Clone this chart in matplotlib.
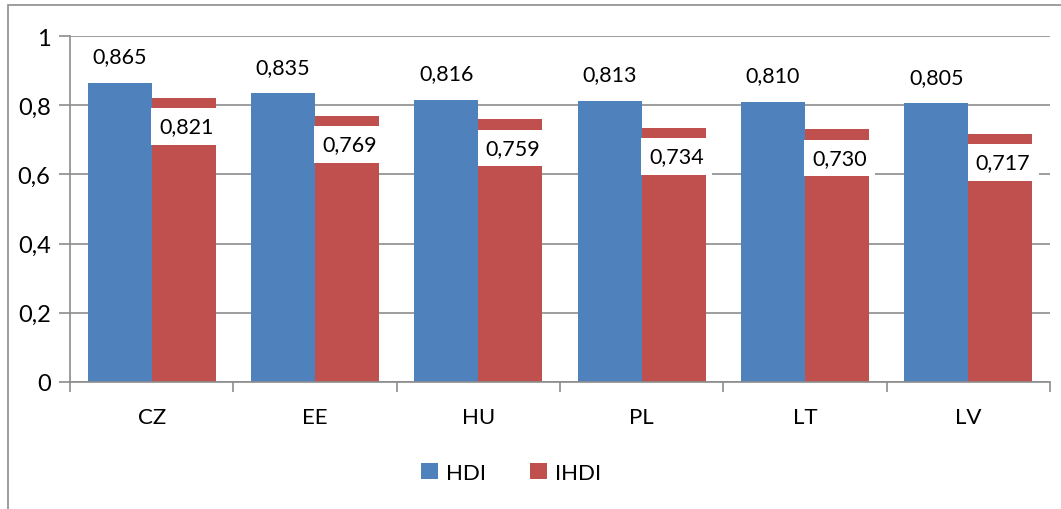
import numpy as np
import matplotlib
matplotlib.use("Agg")
import matplotlib.pyplot as plt
from matplotlib.patches import Rectangle

countries = ["CZ", "EE", "HU", "PL", "LT", "LV"]
hdi = [0.865, 0.835, 0.816, 0.813, 0.810, 0.805]
ihdi = [0.821, 0.769, 0.759, 0.734, 0.730, 0.717]
yticks = [0, 0.2, 0.4, 0.6, 0.8, 1]

plt.rcParams["font.family"] = ["Lato", "DejaVu Sans"]

blue = "#4f81bd"
red = "#c0504d"
grey = "#8c8c8c"

fig = plt.figure(figsize=(10.61, 5.10), dpi=100)
W, H = 1061, 510
ax = fig.add_axes([70 / W, 1 - 383 / H, (1050 - 70) / W, (383 - 37) / H])

# outer chart frame
fig.patches.append(Rectangle((8 / W, -0.05), 1.2, 1 - 6 / H + 0.05, transform=fig.transFigure,
                             fill=False, edgecolor=grey, linewidth=1.2))

x = np.arange(len(countries))
w = 0.392
b1 = ax.bar(x - w / 2, hdi, w, color=blue, label="HDI", zorder=2)
b2 = ax.bar(x + w / 2, ihdi, w, color=red, label="IHDI", zorder=2)

for xi, v in zip(x, hdi):
    ax.annotate(f"{v:.3f}".replace(".", ","), (xi - w / 2, v), xytext=(0, 19),
                textcoords="offset points", ha="center", va="center", fontsize=15.5)
for xi, v in zip(x, ihdi):
    ax.annotate(f"{v:.3f}".replace(".", ","), (xi + w / 2, v), xytext=(2, -20.5),
                textcoords="offset points", ha="center", va="center", fontsize=15.5,
                bbox=dict(boxstyle="square,pad=0.38", fc="white", ec="none"), zorder=3)

ax.set_ylim(0, 1)
ax.set_xlim(-0.5, len(countries) - 0.5)
ax.set_yticks(yticks)
ax.set_yticklabels([f"{t:g}".replace(".", ",") for t in yticks], fontsize=17)
ax.yaxis.grid(True, color=grey, linewidth=1.2, zorder=0)
ax.set_axisbelow(True)

ax.set_xticks(x)
ax.set_xticklabels(countries, fontsize=16)
ax.tick_params(axis="x", length=0, pad=18)
ax.set_xticks(np.arange(-0.5, len(countries)), minor=True)
ax.tick_params(axis="x", which="minor", length=7, color=grey, width=1.2)
ax.tick_params(axis="y", length=8, color=grey, width=1.2, pad=6)

for s in ["top", "right"]:
    ax.spines[s].set_visible(False)
for s in ["left", "bottom"]:
    ax.spines[s].set_color(grey)
    ax.spines[s].set_linewidth(1.2)

fig.legend(handles=[b1, b2], labels=["HDI", "IHDI"], loc="center",
           bbox_to_anchor=(511 / W, 1 - 474 / H), ncol=2, frameon=False,
           fontsize=16, handlelength=0.75, handleheight=0.75, columnspacing=2.0, handletextpad=0.35)

fig.savefig("out.png", dpi=100)
